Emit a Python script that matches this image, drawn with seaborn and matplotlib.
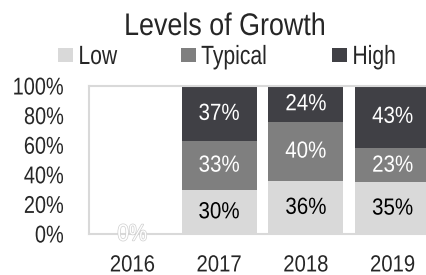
import matplotlib
matplotlib.use("Agg")
import matplotlib.pyplot as plt
import matplotlib.patheffects as pe
from matplotlib.patches import Rectangle
from matplotlib.transforms import Affine2D
import seaborn as sns
import pandas as pd
import numpy as np

years = ["2016", "2017", "2018", "2019"]
low = [0, 30, 36, 35]
typical = [0, 33, 40, 23]
high = [0, 37, 24, 43]
series_names = ["Low", "Typical", "High"]
colors = ["#d9d9d9", "#7f7f7f", "#404045"]
ytick_labels = ["0%", "20%", "40%", "60%", "80%", "100%"]

sns.set_theme(style="white")
plt.rcParams["font.family"] = ["Liberation Sans", "DejaVu Sans"]


class HScale(pe.AbstractPathEffect):
    """Horizontally condense text (narrow font look)."""
    def __init__(self, sx=0.84, anchor="center", inner=None):
        super().__init__()
        self.sx = sx
        self.anchor = anchor
        self.inner = inner

    def draw_path(self, renderer, gc, tpath, affine, rgbFace=None):
        ext = tpath.get_extents()
        if self.anchor == "center":
            cx = (ext.x0 + ext.x1) / 2
        elif self.anchor == "right":
            cx = ext.x1
        else:
            cx = ext.x0
        a = Affine2D().translate(-cx, 0).scale(self.sx, 1).translate(cx, 0) + affine
        if self.inner:
            for eff in self.inner:
                eff.draw_path(renderer, gc, tpath, a, rgbFace)
        else:
            renderer.draw_path(gc, tpath, a, rgbFace)


fig = plt.figure(figsize=(4.26, 2.75), dpi=100)
ax = fig.add_axes([89/426, 41/275, 347/426, 148/275])

df = pd.DataFrame({"year": years, "Low": low, "Typical": typical, "High": high})
long = df.melt(id_vars="year", var_name="level", value_name="pct")
long["top"] = long.groupby("year")["pct"].cumsum()
for name, col in reversed(list(zip(series_names, colors))):
    sub = long[long["level"] == name]
    sns.barplot(data=sub, x="year", y="top", order=years, color=col,
                width=0.865, saturation=1, linewidth=0, ax=ax, zorder=2)

xs = np.arange(len(years))
bottoms = np.zeros(len(years))
for name in series_names:
    vals = np.array(df[name], dtype=float)
    for x, v, b in zip(xs, vals, bottoms):
        if v > 0:
            tc = "black" if name == "Low" else "white"
            ax.text(x, b + v / 2, f"{int(v)}%", ha="center", va="center",
                    fontsize=16.8, color=tc, zorder=3,
                    path_effects=[HScale(0.88, anchor="center")])
    bottoms = bottoms + vals

# 0% label for empty 2016
ax.text(0, 0, "0%", ha="center", va="center", fontsize=16.8, color="white",
        zorder=3, clip_on=False,
        path_effects=[HScale(0.88, anchor="center",
                             inner=[pe.withStroke(linewidth=1.0, foreground="#cfcfcf")])])

ax.set_xlim(-0.5, 3.5)
ax.set_ylim(0, 100)
ax.set_yticks([0, 20, 40, 60, 80, 100])
ax.set_yticklabels(ytick_labels, fontsize=17.5)
ax.set_xticks(xs)
ax.set_xticklabels(years, fontsize=16.8)
ax.tick_params(axis="x", length=0, pad=14)
ax.tick_params(axis="y", length=0, pad=18)
for lab in ax.get_yticklabels():
    lab.set_path_effects([HScale(0.82, anchor="right")])
for lab in ax.get_xticklabels():
    lab.set_path_effects([HScale(0.87, anchor="center")])
ax.set_xlabel("")
ax.set_ylabel("")
for s in ax.spines.values():
    s.set_color("#d9d9d9")
    s.set_linewidth(1.5)

fig.text(225/426, 1 - 35/275, "Levels of Growth", ha="center", va="baseline",
         fontsize=22.5, path_effects=[HScale(0.86, anchor="center")])

# legend row
leg_x = [58, 181, 332]
for x0, name, col in zip(leg_x, series_names, colors):
    fig.add_artist(Rectangle((x0/426, 1 - 62/275), 14.5/426, 14.5/275,
                             transform=fig.transFigure, facecolor=col,
                             edgecolor="none"))
    fig.text((x0 + 20)/426, 1 - 64/275, name, ha="left", va="baseline",
             fontsize=19, path_effects=[HScale(0.80, anchor="left")])

fig.savefig("out.png", dpi=100)
